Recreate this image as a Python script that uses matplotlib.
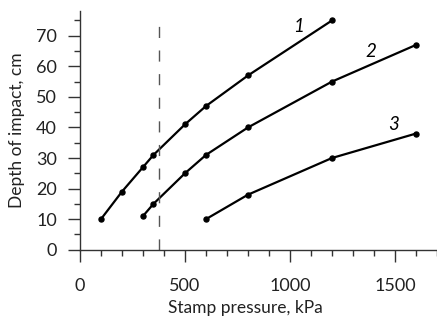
import matplotlib
matplotlib.use("Agg")
import matplotlib.pyplot as plt
from matplotlib.ticker import MultipleLocator

# Curve data
x1 = [100, 200, 300, 350, 500, 600, 800, 1200]
y1 = [10, 19, 27, 31, 41, 47, 57, 75]
x2 = [300, 350, 500, 600, 800, 1200, 1600]
y2 = [11, 15, 25, 31, 40, 55, 67]
x3 = [600, 800, 1200, 1600]
y3 = [10, 18, 30, 38]
curve_labels = ["1", "2", "3"]
label_x = [1043, 1384, 1491]
label_y = [73, 65, 41]
x_dash = 375

plt.rcParams['font.family'] = ['Lato', 'DejaVu Sans']

fig = plt.figure(figsize=(4.37, 3.20), dpi=100)
ax = fig.add_axes([0.183, 0.2197, 0.817, 0.745])

for xs, ys in [(x1, y1), (x2, y2), (x3, y3)]:
    ax.plot(xs, ys, color='black', lw=1.6, marker='o', ms=3.6, clip_on=False)

for t, lx, ly in zip(curve_labels, label_x, label_y):
    ax.text(lx, ly, t, fontsize=13.5, style='italic', ha='center', va='center')

ax.plot([x_dash, x_dash], [0, 74], color='#555555', lw=1.0, ls=(0, (8, 9)))

ax.set_xlim(0, 1700)
ax.set_ylim(0, 78)

ax.spines['top'].set_visible(False)
ax.spines['right'].set_visible(False)
ax.spines['left'].set_linewidth(1.0)
ax.spines['bottom'].set_linewidth(1.0)
ax.spines['left'].set_color('#333333')
ax.spines['bottom'].set_color('#333333')

ax.xaxis.set_major_locator(MultipleLocator(500))
ax.xaxis.set_minor_locator(MultipleLocator(100))
ax.yaxis.set_major_locator(MultipleLocator(10))
ax.yaxis.set_minor_locator(MultipleLocator(5))
ax.tick_params(axis='both', which='both', colors='#333333', labelcolor='#222222', width=1)
ax.tick_params(axis='x', which='major', direction='out', length=8.6, pad=12, labelsize=13)
ax.tick_params(axis='x', which='minor', direction='out', length=4)
ax.tick_params(axis='y', which='major', direction='out', length=8.6, pad=8, labelsize=13)
ax.tick_params(axis='y', which='minor', direction='out', length=4.3)

fig.text(0.561, 0.038, "Stamp pressure, kPa", fontsize=12.5, ha='center', va='center', color='#222222')
fig.text(0.039, 0.594, "Depth of impact, cm", fontsize=12.5, ha='center', va='center', rotation=90, color='#222222')

fig.savefig("out.png", dpi=100)
